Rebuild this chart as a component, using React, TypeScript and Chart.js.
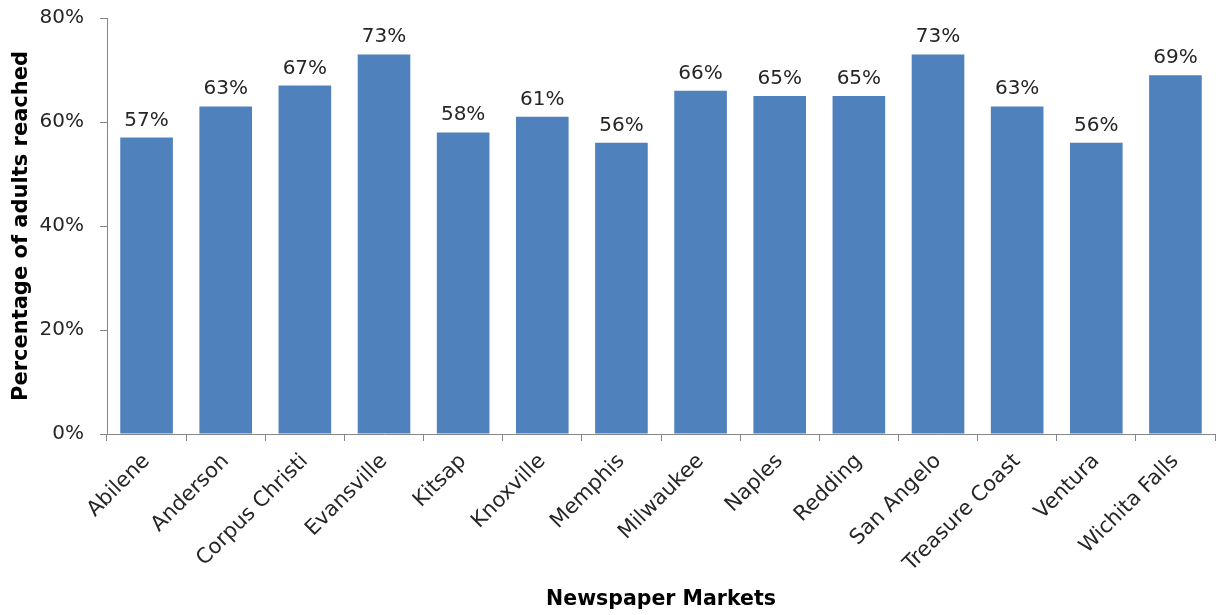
import React, { useEffect, useRef } from "react";
import { Chart, registerables } from "chart.js";

Chart.register(...registerables);

const markets = [
  "Abilene", "Anderson", "Corpus Christi", "Evansville", "Kitsap", "Knoxville", "Memphis",
  "Milwaukee", "Naples", "Redding", "San Angelo", "Treasure Coast", "Ventura", "Wichita Falls",
];
const reachPct = [57, 63, 67, 73, 58, 61, 56, 66, 65, 65, 73, 63, 56, 69];
const yTicks = [0, 20, 40, 60, 80];

const FONT = "'DejaVu Sans', Verdana, sans-serif";
const AXIS_GRAY = "#868686";

const valueLabels = {
  id: "valueLabels",
  afterDatasetsDraw(chart: any) {
    const ctx = chart.ctx;
    const meta = chart.getDatasetMeta(0);
    ctx.save();
    ctx.font = `20px ${FONT}`;
    ctx.fillStyle = "#262626";
    ctx.textAlign = "center";
    ctx.textBaseline = "alphabetic";
    meta.data.forEach((el: any, i: number) => {
      ctx.fillText(`${reachPct[i]}%`, el.x, el.y - 12);
    });
    ctx.restore();
  },
};

export default function App() {
  const ref = useRef<HTMLCanvasElement | null>(null);
  useEffect(() => {
    if (!ref.current) return;
    const chart = new Chart(ref.current, {
      type: "bar",
      data: {
        labels: markets,
        datasets: [
          {
            data: reachPct,
            backgroundColor: "#4F81BD",
            borderWidth: 0,
            categoryPercentage: 1,
            barPercentage: 0.665,
          },
        ],
      },
      options: {
        responsive: false,
        animation: false,
        layout: { padding: { top: 18, right: 3, left: 0, bottom: 0 } },
        plugins: { legend: { display: false }, tooltip: { enabled: false } },
        scales: {
          x: {
            grid: {
              drawOnChartArea: false,
              drawTicks: true,
              tickLength: 7,
              color: AXIS_GRAY,
              offset: true,
            },
            border: { color: AXIS_GRAY, width: 1 },
            ticks: {
              font: { family: FONT, size: 21 },
              color: "#262626",
              minRotation: 45,
              maxRotation: 45,
              padding: 8,
              autoSkip: false,
            },
            title: {
              display: true,
              text: "Newspaper Markets",
              font: { family: FONT, size: 20.5, weight: "bold" },
              color: "#000",
              padding: { top: 0, bottom: 3 },
            },
            afterFit(scale: any) {
              scale.height = 181;
            },
          },
          y: {
            min: 0,
            max: 80,
            afterBuildTicks(scale: any) {
              scale.ticks = yTicks.map((v) => ({ value: v }));
            },
            grid: {
              drawOnChartArea: false,
              drawTicks: true,
              tickLength: 7,
              color: AXIS_GRAY,
            },
            border: { color: AXIS_GRAY, width: 1 },
            ticks: {
              font: { family: FONT, size: 20 },
              color: "#262626",
              padding: 16,
              callback: (v: any) => `${v}%`,
            },
            title: {
              display: true,
              text: "Percentage of adults reached",
              font: { family: FONT, size: 21, weight: "bold" },
              color: "#000",
              padding: { top: 9, bottom: 0 },
            },
            afterFit(scale: any) {
              scale.width = 107;
              scale.paddingTop = 0;
              scale.paddingBottom = 0;
            },
          },
        },
      },
      plugins: [valueLabels],
    });
    return () => chart.destroy();
  }, []);
  return (
    <div style={{ position: "absolute", left: 0, top: 0, width: 1218, height: 615, background: "#fff" }}>
      <canvas ref={ref} width={1218} height={615} style={{ display: "block" }} />
    </div>
  );
}
